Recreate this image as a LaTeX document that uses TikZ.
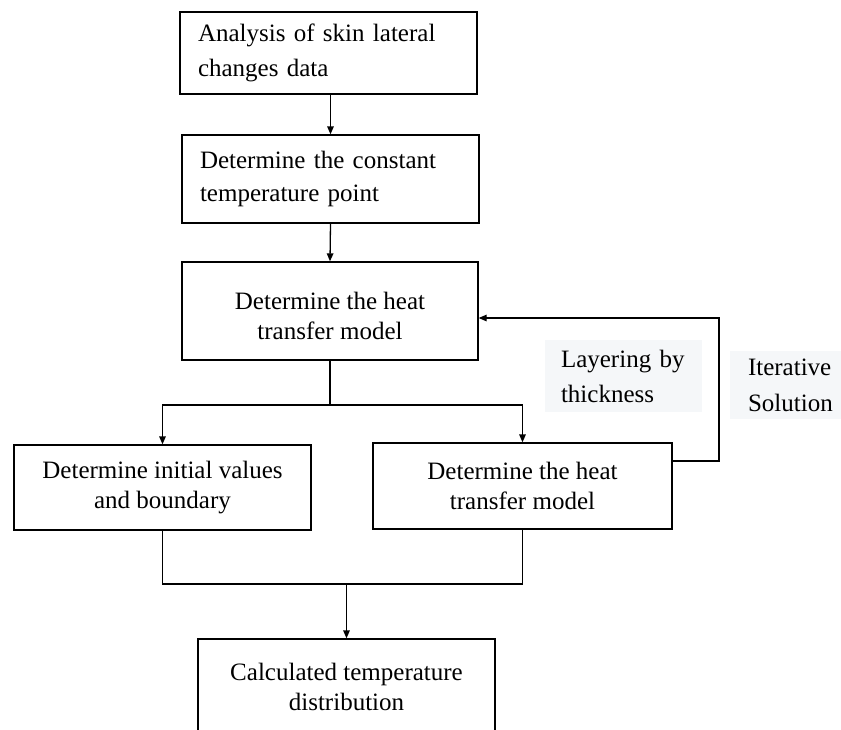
\documentclass[tikz,border=0pt]{standalone}
\usepackage{fontspec}
\setmainfont{Liberation Serif}
\usetikzlibrary{arrows.meta}
\definecolor{labbg}{RGB}{245,247,249}
\begin{document}
\begin{tikzpicture}[x=1pt,y=-1pt,
  box/.style={draw, line width=1.3pt, minimum width=#1, inner sep=0pt, font=\fontsize{25}{30}\selectfont},
  leftbox/.style={draw, line width=1.3pt, minimum width=297pt, align=left, text width=261pt, inner xsep=18pt, inner ysep=0pt},
  lab/.style={fill=labbg, align=left, inner sep=0pt, font=\fontsize{25}{35}\selectfont},
  arr/.style={line width=1.3pt, -{Triangle[length=8pt,width=6.5pt]}},
  ln/.style={line width=1.3pt}]
\clip (0,0) rectangle (841,729);
\useasboundingbox (0,0) rectangle (841,729);
\fill[white] (0,0) rectangle (841,729);
% boxes
\node[leftbox, minimum height=82pt, font=\fontsize{25}{35}\selectfont] (b1) at (328.5,53) {Analysis of skin lateral\\changes data};
\node[leftbox, minimum height=88pt, font=\fontsize{25}{33}\selectfont] (b2) at (330.5,179) {Determine the constant\\temperature point};
\node[box=296pt, minimum height=98pt, align=center] (b3) at (330,311) {\rule{0pt}{28pt}Determine the heat\\transfer model};
\node[box=297pt, minimum height=85pt, align=center] (b4) at (162.5,487.5) {Determine initial values\\and boundary};
\node[box=299pt, minimum height=86pt, align=center] (b5) at (522.5,486) {Determine the heat\\transfer model};
\node[box=297pt, minimum height=96pt, align=center] (b6) at (346.5,687) {Calculated temperature\\distribution};
% labels
\node[lab, minimum width=157pt, minimum height=72pt, text width=125pt, inner xsep=16pt] (l1) at (623.5,376) {Layering by\\thickness};
\node[lab, minimum width=120pt, minimum height=68pt, text width=84pt, inner xsep=18pt, font=\fontsize{25}{36}\selectfont] (l2) at (790,385) {Iterative\\Solution};
% coordinates
\coordinate (s1) at (330,405);
\coordinate (s2) at (346.5,584);
\coordinate (f1) at (719,461);
\coordinate (f2) at (719,318);
% connectors
\draw[arr] (b1.south -| 330.5,0) -- (b2.north -| 330.5,0);
\draw[arr] (b2.south) -- (b3.north);
\draw[ln] (b3.south) -- (s1);
\draw[arr] (s1) -| (b4.north);
\draw[arr] (s1) -| (b5.north);
\draw[ln] (b4.south) |- (s2);
\draw[ln] (b5.south) |- (s2);
\draw[arr] (s2) -- (b6.north);
\draw[arr] (b5.east |- f1) -- (f1) -- (f2) -- (b3.east |- f2);
\end{tikzpicture}
\end{document}
